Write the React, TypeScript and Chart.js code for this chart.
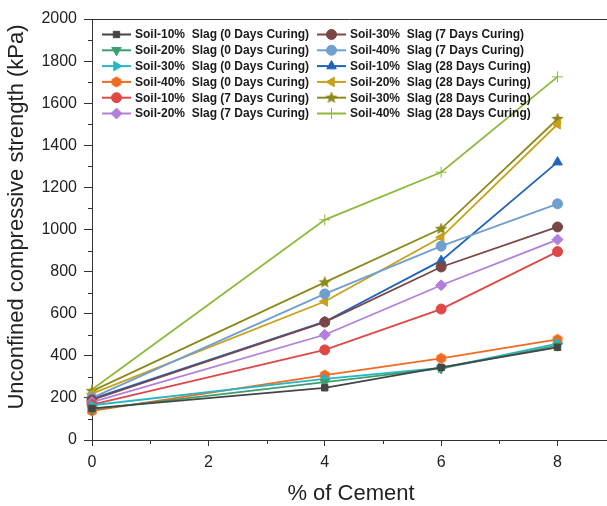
import React, { useEffect, useRef } from "react";
import { Chart, registerables } from "chart.js";
import { drawPoint } from "chart.js/helpers";

Chart.register(...registerables);

const cementPct = [0, 4, 6, 8];
const seriesLabels = [
  "Soil-10%  Slag (0 Days Curing)",
  "Soil-20%  Slag (0 Days Curing)",
  "Soil-30%  Slag (0 Days Curing)",
  "Soil-40%  Slag (0 Days Curing)",
  "Soil-10%  Slag (7 Days Curing)",
  "Soil-20%  Slag (7 Days Curing)",
  "Soil-30%  Slag (7 Days Curing)",
  "Soil-40%  Slag (7 Days Curing)",
  "Soil-10%  Slag (28 Days Curing)",
  "Soil-20%  Slag (28 Days Curing)",
  "Soil-30%  Slag (28 Days Curing)",
  "Soil-40%  Slag (28 Days Curing)",
];
const slag10d0 = [150, 248, 345, 440];
const slag20d0 = [145, 275, 340, 448];
const slag30d0 = [165, 290, 342, 458];
const slag40d0 = [138, 308, 388, 478];
const slag10d7 = [168, 428, 622, 895];
const slag20d7 = [180, 500, 735, 952];
const slag30d7 = [190, 560, 822, 1012];
const slag40d7 = [200, 694, 921, 1122];
const slag10d28 = [195, 562, 852, 1320];
const slag20d28 = [220, 658, 963, 1500];
const slag30d28 = [232, 749, 1003, 1525];
const slag40d28 = [240, 1046, 1272, 1725];
const seriesValues = [
  slag10d0, slag20d0, slag30d0, slag40d0,
  slag10d7, slag20d7, slag30d7, slag40d7,
  slag10d28, slag20d28, slag30d28, slag40d28,
];
const seriesColors = [
  "#454545", "#3c9e70", "#27b6c4", "#f06a20",
  "#e04848", "#b27fdc", "#7a4646", "#6e9fcf",
  "#2063b8", "#c9a01a", "#8c8a1c", "#8cba3a",
];
const yTicks = [0, 200, 400, 600, 800, 1000, 1200, 1400, 1600, 1800, 2000];
const xTicks = [0, 2, 4, 6, 8];

function makeShape(kind: string, color: string, size: number) {
  const c = document.createElement("canvas");
  c.width = size;
  c.height = size;
  const ctx = c.getContext("2d")!;
  ctx.fillStyle = color;
  const cx = size / 2, cy = size / 2, r = size / 2 - 0.5;
  ctx.beginPath();
  if (kind === "star") {
    for (let i = 0; i < 10; i++) {
      const a = -Math.PI / 2 + (i * Math.PI) / 5;
      const rr = i % 2 === 0 ? r : r * 0.45;
      const px = cx + rr * Math.cos(a), py = cy + rr * Math.sin(a);
      if (i === 0) ctx.moveTo(px, py); else ctx.lineTo(px, py);
    }
  } else {
    for (let i = 0; i < 6; i++) {
      const a = -Math.PI / 2 + (i * Math.PI) / 3;
      const px = cx + r * Math.cos(a), py = cy + r * Math.sin(a);
      if (i === 0) ctx.moveTo(px, py); else ctx.lineTo(px, py);
    }
  }
  ctx.closePath();
  ctx.fill();
  return c;
}

function styleFor(i: number): { pointStyle: any; rotation: number; radius: number } {
  const col = seriesColors[i];
  switch (i) {
    case 0: return { pointStyle: "rect", rotation: 0, radius: 4.5 };
    case 1: return { pointStyle: "triangle", rotation: 180, radius: 5.5 };
    case 2: return { pointStyle: "triangle", rotation: 90, radius: 5.5 };
    case 3: return { pointStyle: makeShape("hex", col, 12), rotation: 0, radius: 5 };
    case 4: return { pointStyle: "circle", rotation: 0, radius: 5 };
    case 5: return { pointStyle: "rectRot", rotation: 0, radius: 5.5 };
    case 6: return { pointStyle: "circle", rotation: 0, radius: 5 };
    case 7: return { pointStyle: "circle", rotation: 0, radius: 5 };
    case 8: return { pointStyle: "triangle", rotation: 0, radius: 5.5 };
    case 9: return { pointStyle: "triangle", rotation: -90, radius: 5.5 };
    case 10: return { pointStyle: makeShape("star", col, 14), rotation: 0, radius: 7 };
    default: return { pointStyle: "cross", rotation: 0, radius: 5.5 };
  }
}

const FONT = "'Liberation Sans', Arial, sans-serif";

const decorPlugin = {
  id: "decor",
  afterDraw(chart: any) {
    const ctx = chart.ctx;
    const area = chart.chartArea;
    const xs = chart.scales.x;
    const ys = chart.scales.y;
    ctx.save();
    ctx.strokeStyle = "#333";
    ctx.lineWidth = 1;
    ctx.beginPath();
    ctx.moveTo(area.left, area.top + 0.5);
    ctx.lineTo(area.right, area.top + 0.5);
    ctx.stroke();
    ctx.beginPath();
    for (let v = 100; v < 2000; v += 200) {
      const py = Math.round(ys.getPixelForValue(v)) + 0.5;
      ctx.moveTo(area.left - 4, py);
      ctx.lineTo(area.left, py);
    }
    for (let v = 1; v < 9; v += 2) {
      const px = Math.round(xs.getPixelForValue(v)) + 0.5;
      ctx.moveTo(px, area.bottom);
      ctx.lineTo(px, area.bottom + 4);
    }
    ctx.stroke();
    ctx.fillStyle = "#222";
    ctx.font = `22px ${FONT}`;
    ctx.textAlign = "center";
    ctx.textBaseline = "middle";
    ctx.fillText("% of Cement", 351, 494);
    ctx.save();
    ctx.translate(17, 217);
    ctx.rotate(-Math.PI / 2);
    ctx.fillText("Unconfined compressive strength (kPa)", 0, 0);
    ctx.restore();
    const colX = [102, 317];
    chart.data.datasets.forEach((ds: any, i: number) => {
      const col = i < 6 ? 0 : 1;
      const row = i % 6;
      const x0 = colX[col];
      const y = 34.5 + row * 15.8;
      ctx.strokeStyle = ds.borderColor;
      ctx.fillStyle = ds.borderColor;
      ctx.lineWidth = 2;
      ctx.beginPath();
      ctx.moveTo(x0, y);
      ctx.lineTo(x0 + 29, y);
      ctx.stroke();
      const st = styleFor(i);
      ctx.lineWidth = 1;
      drawPoint(ctx, { pointStyle: st.pointStyle, rotation: st.rotation, radius: st.radius, borderWidth: 1 }, x0 + 14.5, y);
      ctx.fillStyle = "#1a1a1a";
      ctx.font = `bold 12px ${FONT}`;
      ctx.textAlign = "left";
      ctx.textBaseline = "middle";
      ctx.fillText(ds.label, x0 + 33, y + 0.5);
    });
    ctx.restore();
  },
};

export default function App() {
  const ref = useRef<HTMLCanvasElement | null>(null);
  useEffect(() => {
    if (!ref.current) return;
    const datasets = seriesValues.map((vals, i) => {
      const st = styleFor(i);
      return {
        label: seriesLabels[i],
        data: cementPct.map((x, k) => ({ x, y: vals[k] })),
        borderColor: seriesColors[i],
        backgroundColor: seriesColors[i],
        borderWidth: 1.8,
        pointStyle: st.pointStyle,
        pointRotation: st.rotation,
        pointRadius: st.radius,
        pointBorderWidth: 1,
        pointBorderColor: seriesColors[i],
        pointBackgroundColor: seriesColors[i],
        tension: 0,
        clip: false,
      };
    });
    const chart = new Chart(ref.current, {
      type: "line",
      data: { datasets },
      options: {
        animation: false,
        responsive: false,
        devicePixelRatio: 1,
        layout: { autoPadding: false, padding: { top: 19, right: 0, left: 0, bottom: 0 } },
        plugins: { legend: { display: false }, title: { display: false }, tooltip: { enabled: false } },
        scales: {
          x: {
            type: "linear",
            min: 0,
            max: 8.85,
            afterBuildTicks: (s: any) => { s.ticks = xTicks.map((v) => ({ value: v })); },
            afterFit: (s: any) => { s.height = 66; s.paddingRight = 0; s.paddingLeft = 0; },
            ticks: { font: { size: 16, family: FONT }, color: "#222", padding: 7, callback: (v: any) => String(v) },
            grid: { drawOnChartArea: false, tickLength: 6, color: "#333" },
            border: { color: "#333", width: 1 },
          },
          y: {
            min: 0,
            max: 2000,
            afterBuildTicks: (s: any) => { s.ticks = yTicks.map((v) => ({ value: v })); },
            afterFit: (s: any) => { s.width = 92; s.paddingTop = 0; s.paddingBottom = 0; },
            ticks: { font: { size: 16, family: FONT }, color: "#222", padding: 7, callback: (v: any) => String(v) },
            grid: { drawOnChartArea: false, tickLength: 8, color: "#333" },
            border: { color: "#333", width: 1 },
          },
        },
      },
      plugins: [decorPlugin],
    });
    return () => chart.destroy();
  }, []);
  return (
    <div style={{ position: "absolute", left: 0, top: 0, width: 607, height: 506, background: "#fff", overflow: "hidden" }}>
      <canvas ref={ref} width={607} height={506} style={{ display: "block", width: 607, height: 506 }} />
    </div>
  );
}
